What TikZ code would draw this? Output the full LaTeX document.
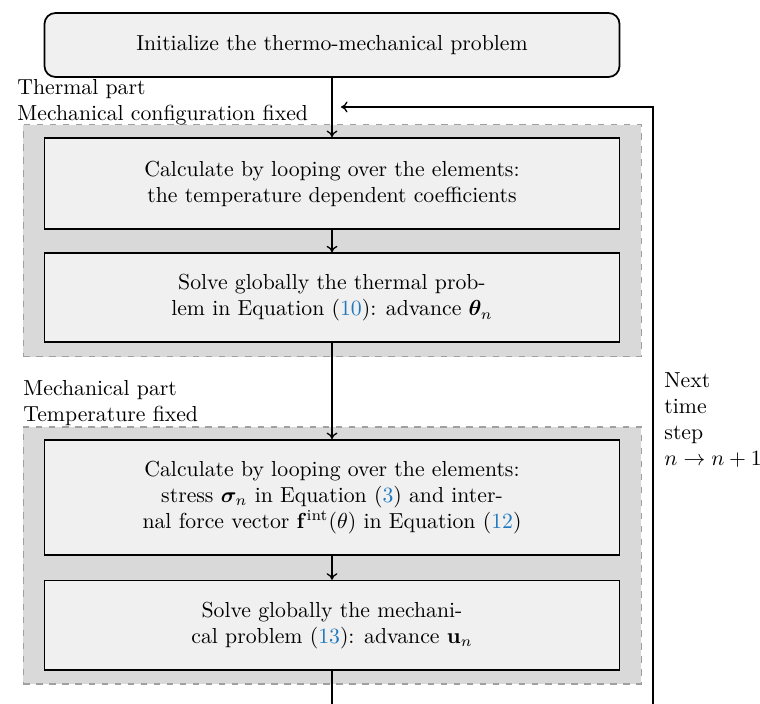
\documentclass[tikz,border=0pt]{standalone}
\usepackage{amsmath}
\usepackage{bm}
\usetikzlibrary{arrows.meta}
\definecolor{boxfill}{HTML}{F0F0F0}
\definecolor{groupfill}{HTML}{D9D9D9}
\definecolor{groupline}{HTML}{A0A0A0}
\definecolor{linkblue}{RGB}{32,120,190}
\newcommand{\myeqref}[1]{(\textcolor{linkblue}{#1})}
\begin{document}
\begin{tikzpicture}[x=0.46pt,y=-0.46pt,
  every node/.style={font=\fontsize{10}{12}\selectfont},
  stepbox/.style={draw, line width=0.8pt, fill=boxfill, align=center, minimum width=264.5pt, inner sep=0pt},
  initbox/.style={stepbox, rounded corners=5pt},
  groupbox/.style={draw=groupline, dashed, fill=groupfill, line width=0.5pt, minimum width=284.3pt, inner sep=0pt},
  flow/.style={-{To[length=3pt,width=5pt]}, line width=0.6pt},
  plainline/.style={line width=0.6pt},
  lbl/.style={align=left, inner sep=0pt, anchor=north west}
]
\useasboundingbox (0,0) rectangle (760,704);

% groups
\node[groupbox, minimum height=106.6pt] (thermal) at (332.3,240.8) {};
\node[groupbox, minimum height=118.2pt] (mech) at (332.3,555.5) {};

% boxes
\node[initbox, minimum height=29.4pt] (init) at (332,45) {Initialize the thermo-mechanical problem};
\node[stepbox, minimum height=41.9pt] (b1) at (332,183.5) {Calculate by looping over the elements:\\the temperature dependent coefficients};
\node[stepbox, minimum height=41pt] (b2) at (332,297.8) {Solve globally the thermal prob-\\lem in Equation \myeqref{10}: advance $\bm{\theta}_n$};
\node[stepbox, minimum height=52.9pt] (b3) at (332,497.5) {Calculate by looping over the elements:\\stress $\bm{\sigma}_n$ in Equation \myeqref{3} and inter-\\nal force vector $\mathbf{f}^{\text{int}}(\theta)$ in Equation \myeqref{12}};
\node[stepbox, minimum height=41pt] (b4) at (332,625.2) {Solve globally the mechani-\\cal problem \myeqref{13}: advance $\mathbf{u}_n$};

% labels
\node[lbl] (lt) at (17,79) {Thermal part\\Mechanical configuration fixed};
\node[lbl] (lm) at (23,380) {Mechanical part\\Temperature fixed};
\node[lbl] (ln) at (664,372) {Next\\time\\step\\$n\rightarrow n+1$};

% connectors
\coordinate (bot) at (332,704);
\coordinate (rbot) at (653,704);
\coordinate (ret) at (341,107);
\draw[flow] (init) -- (b1);
\draw[flow] (b1) -- (b2);
\draw[flow] (b2) -- (b3);
\draw[flow] (b3) -- (b4);
\draw[plainline] (b4) -- (bot);
\draw[flow] (rbot) |- (ret);
\end{tikzpicture}
\end{document}
